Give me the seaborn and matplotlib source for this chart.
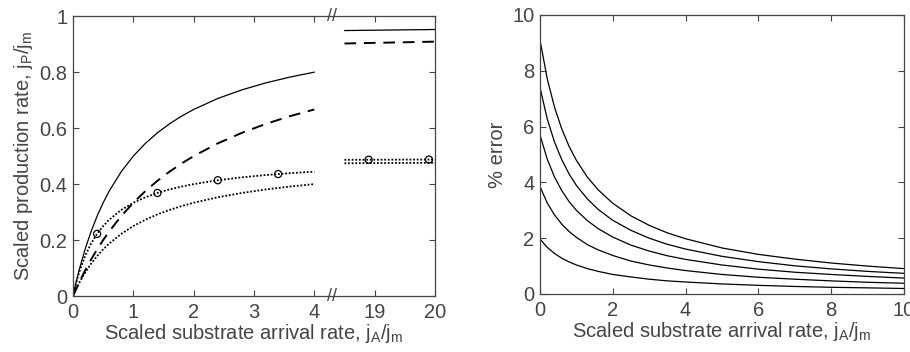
import numpy as np
import pandas as pd
import matplotlib
matplotlib.use("Agg")
import matplotlib.pyplot as plt
import seaborn as sns

# ---------------- data ----------------
# left panel, first segment (j_A/j_m from 0 to 4)
xa = [0, 0.05, 0.1, 0.2, 0.3, 0.4, 0.5, 0.6, 0.8, 1.0, 1.2, 1.4, 1.6, 1.8,
      2.0, 2.4, 2.8, 3.2, 3.6, 4.0]
solid = [0, 0.0476, 0.0909, 0.1667, 0.2308, 0.2857, 0.3333, 0.375, 0.4444,
         0.5, 0.5455, 0.5833, 0.6154, 0.6429, 0.6667, 0.7059, 0.7368, 0.7619,
         0.7826, 0.8]
dashed = [0, 0.0244, 0.0476, 0.0909, 0.1304, 0.1667, 0.2, 0.2308, 0.2857,
          0.3333, 0.375, 0.4118, 0.4444, 0.4737, 0.5, 0.5455, 0.5833, 0.6154,
          0.6429, 0.6667]
dot_up = [0, 0.0455, 0.0833, 0.1429, 0.1875, 0.2222, 0.25, 0.2727, 0.3077,
          0.3333, 0.3529, 0.3684, 0.381, 0.3913, 0.4, 0.4138, 0.4242, 0.4324,
          0.439, 0.4444]
dot_lo = [0, 0.0238, 0.0455, 0.0833, 0.1154, 0.1429, 0.1667, 0.1875, 0.2222,
          0.25, 0.2727, 0.2917, 0.3077, 0.3214, 0.3333, 0.3529, 0.3684, 0.381,
          0.3913, 0.4]
# left panel, second segment (j_A/j_m from 18.5 to 20)
xb = [18.5, 20.0]
solid_b = [0.9487, 0.9524]
dashed_b = [0.9024, 0.9091]
dot_up_b = [0.4868, 0.4878]
dot_lo_b = [0.4744, 0.4762]
# circle markers on the upper dotted curve
xc = [0.4, 1.4, 2.4, 3.4, 18.9, 19.9]
yc = [0.2222, 0.3684, 0.4138, 0.4359, 0.4871, 0.4876]

# right panel: % error
xe = [0, 0.2, 0.4, 0.6, 0.8, 1.0, 1.3, 1.6, 2.0, 2.5, 3.0, 3.5, 4, 5, 6, 7, 8, 9, 10]
err1 = [9.1, 7.71, 6.69, 5.91, 5.29, 4.79, 4.19, 3.73, 3.25, 2.80, 2.46, 2.19,
        1.98, 1.65, 1.42, 1.25, 1.11, 1.00, 0.91]
err2 = [7.4, 6.27, 5.44, 4.81, 4.30, 3.89, 3.41, 3.03, 2.64, 2.28, 2.00, 1.78,
        1.61, 1.35, 1.16, 1.01, 0.90, 0.81, 0.74]
err3 = [5.7, 4.83, 4.19, 3.70, 3.31, 3.0, 2.63, 2.34, 2.04, 1.75, 1.54, 1.37,
        1.24, 1.04, 0.89, 0.78, 0.70, 0.63, 0.57]
err4 = [3.85, 3.26, 2.83, 2.50, 2.24, 2.03, 1.77, 1.58, 1.38, 1.18, 1.04, 0.93,
        0.84, 0.70, 0.60, 0.53, 0.47, 0.42, 0.385]
err5 = [1.97, 1.67, 1.45, 1.28, 1.15, 1.04, 0.91, 0.81, 0.70, 0.61, 0.53, 0.47,
        0.43, 0.36, 0.31, 0.27, 0.24, 0.22, 0.197]

left_xticks = [0, 1, 2, 3, 4, 19, 20]
left_yticks = [0, 0.2, 0.4, 0.6, 0.8, 1]
left_yticklabels = ["0", "0.2", "0.4", "0.6", "0.8", "1"]
right_xticks = [0, 2, 4, 6, 8, 10]
right_yticks = [0, 2, 4, 6, 8, 10]
BREAK_SHIFT = 14.0   # second segment drawn shifted left by this amount
BREAK_POS = 4.3

# ---------------- style ----------------
sns.set_style("ticks")
plt.rcParams['font.family'] = ['Liberation Sans', 'DejaVu Sans']
plt.rcParams['mathtext.default'] = 'regular'
GRAY = '#454545'
FS = 14.5
plt.rcParams.update({
    'axes.edgecolor': GRAY, 'xtick.color': GRAY, 'ytick.color': GRAY,
    'axes.labelcolor': GRAY, 'text.color': GRAY,
    'xtick.direction': 'in', 'ytick.direction': 'in',
    'xtick.top': True, 'ytick.right': True,
    'xtick.major.size': 4, 'ytick.major.size': 4,
    'xtick.major.width': 0.8, 'ytick.major.width': 0.8,
    'axes.linewidth': 0.9, 'font.size': FS,
})

fig = plt.figure(figsize=(9.10, 3.52), dpi=100)
ax1 = fig.add_axes([0.0802, 0.159, 0.3978, 0.795])
ax2 = fig.add_axes([0.5934, 0.1648, 0.4, 0.7926])

# ---------------- left panel ----------------
xb_shift = [v - BREAK_SHIFT for v in xb]
xc_shift = [v - BREAK_SHIFT if v > 10 else v for v in xc]

def seg(ax, x, y, **kw):
    sns.lineplot(x=x, y=y, ax=ax, color='black', estimator=None, sort=False, **kw)

seg(ax1, xa, solid, linewidth=0.9)
seg(ax1, xb_shift, solid_b, linewidth=0.9)
seg(ax1, xa, dashed, linewidth=1.4, dashes=False, linestyle=(0, (6, 4)))
seg(ax1, xb_shift, dashed_b, linewidth=1.4, dashes=False, linestyle=(0, (6, 4)))
for y1, y2 in [(dot_up, dot_up_b), (dot_lo, dot_lo_b)]:
    seg(ax1, xa, y1, linewidth=1.3, dashes=False, linestyle=(0, (1, 1.0)))
    seg(ax1, xb_shift, y2, linewidth=1.3, dashes=False, linestyle=(0, (1, 1.0)))
sns.scatterplot(x=xc_shift, y=yc, ax=ax1, marker='o', s=26,
                facecolor='none', edgecolor='black', linewidth=0.9, zorder=5)

ax1.set_xlim(0, 6)
ax1.set_ylim(0, 1)
ax1.set_xticks([v if v <= 4 else v - BREAK_SHIFT for v in left_xticks])
ax1.set_xticklabels([str(v) for v in left_xticks])
ax1.set_yticks(left_yticks)
ax1.set_yticklabels(left_yticklabels)
for yy in (0, 1):
    ax1.text(BREAK_POS, yy, '//', ha='center', va='center', fontsize=13,
             color=GRAY, transform=ax1.transData, clip_on=False)
ax1.set_xlabel(r'Scaled substrate arrival rate, j$_A$/j$_m$', labelpad=0)
ax1.set_ylabel(r'Scaled production rate, j$_P$/j$_m$', labelpad=3)

# ---------------- right panel ----------------
for e in (err1, err2, err3, err4, err5):
    seg(ax2, xe, e, linewidth=0.9)
ax2.set_xlim(0, 10)
ax2.set_ylim(0, 10)
ax2.set_xticks(right_xticks)
ax2.set_xticklabels([str(v) for v in right_xticks])
ax2.set_yticks(right_yticks)
ax2.set_yticklabels([str(v) for v in right_yticks])
ax2.set_xlabel(r'Scaled substrate arrival rate, j$_A$/j$_m$', labelpad=0)
ax2.set_ylabel('% error', labelpad=4)

for ax in (ax1, ax2):
    for s in ax.spines.values():
        s.set_visible(True)
    ax.tick_params(axis='x', labelsize=FS, pad=5)
    ax.tick_params(axis='y', labelsize=FS, pad=4)
    ax.xaxis.label.set_size(FS)
    ax.yaxis.label.set_size(FS)

fig.savefig('out.png', dpi=100)
